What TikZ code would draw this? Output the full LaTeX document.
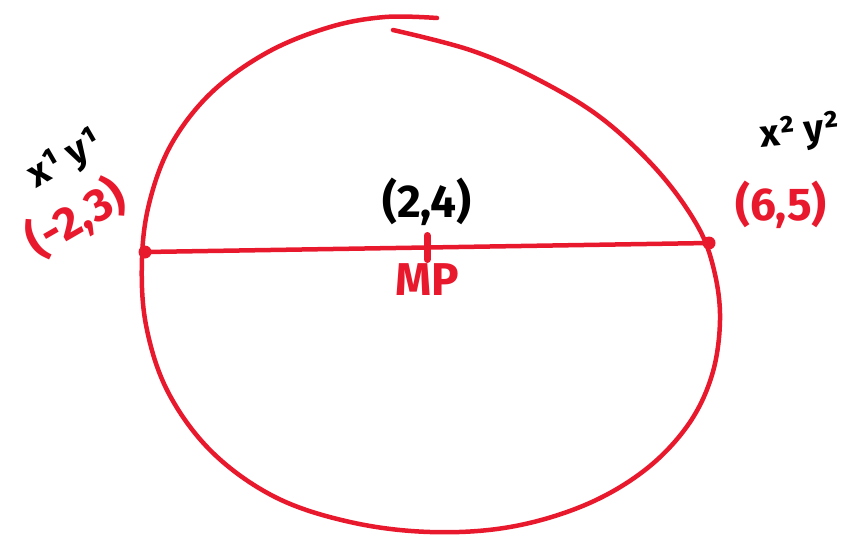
\documentclass[tikz,border=0pt]{standalone}
\usepackage{fontspec}
\setmainfont{Fira Sans}
\usetikzlibrary{positioning, calc}
\definecolor{penRed}{HTML}{E8192C}

\begin{document}
\begin{tikzpicture}[x=1pt, y=-1pt,
    pen/.style={penRed, line width=4.5pt, line cap=round, line join=round},
    ink/.style={font=\fontsize{46}{52}\selectfont\bfseries, inner sep=0pt},
    small ink/.style={ink, font=\fontsize{38}{44}\selectfont\bfseries},
    dot/.style={circle, fill=penRed, inner sep=0pt, minimum size=13pt}]
  \useasboundingbox (0,0) rectangle (862,549);
  % the circle, one stroke by hand
  \draw[pen] plot[smooth, tension=0.6] coordinates {
    (393,30) (470,50) (535,78) (600,117) (657,170) (697,225) (714,270)
    (720,320) (712,375) (688,425) (645,470) (585,505) (510,527) (430,532)
    (350,522) (275,497) (212,452) (168,392) (146,325) (142,258) (150,200)
    (172,143) (212,92) (268,52) (330,27) (385,17) (437,18)};
  % diameter and midpoint
  \node[dot] (left) at (145,252) {};
  \node[dot] (right) at (709,243) {};
  \draw[pen] (left.center) -- (right.center);
  \coordinate (mp) at ($(left)!0.5!(right)$);
  \draw[pen, line width=7pt] ([yshift=-12pt]mp) -- ([yshift=12pt]mp);
  \node[ink, above=22pt of mp] (mid) {(2,4)};
  \node[ink, penRed, below=16pt of mp] (mplabel) {MP};
  % end points
  \node[small ink, rotate=30] (lefttop) at (66,160) {x¹ y¹};
  \node[ink, penRed, rotate=30] (leftpt) at (76,218) {(-2,3)};
  \node[small ink, rotate=6] (righttop) at (800,133) {x² y²};
  \node[ink, penRed] (rightpt) at (781,205) {(6,5)};
\end{tikzpicture}
\end{document}
